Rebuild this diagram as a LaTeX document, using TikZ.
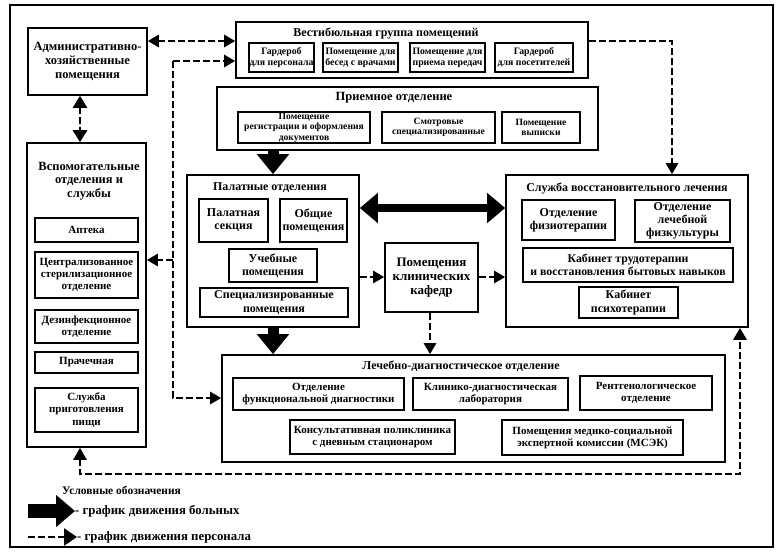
\documentclass[tikz,border=0pt]{standalone}
\usepackage{fontspec}
\setmainfont{Liberation Serif}
\usetikzlibrary{arrows.meta}
\newcommand\fs[1]{\bfseries\fontsize{#1pt}{\dimexpr #1pt*11/10\relax}\selectfont}
\newcommand\bx[7]{\node[#6, minimum width={(#4-#2)*1pt}, minimum height={(#5-#3)*1pt}] (#1) at ({(#2+#4)/2},{(#3+#5)/2}) {#7};}
\begin{document}
\begin{tikzpicture}[x=1pt,y=-1pt,
  sub/.style={draw, line width=1.3pt, inner sep=0.5pt, align=center, font=\fs{9.8}},
  cont/.style={draw, line width=1.6pt},
  ttl/.style={inner sep=0pt, align=center, font=\fs{12}},
  pers/.style={line width=2.6pt, dash pattern=on 7pt off 3pt, -{Triangle[length=11pt,width=12pt]}},
  pat/.style={line width=11pt, -{Triangle[length=20pt,width=31pt]}},
]
\useasboundingbox (0,0) rectangle (784,558);
\fill[white] (0,0) rectangle (784,558);
\draw[line width=1.8pt] (10,5) rectangle (773,547);

% administrative
\bx{admin}{28}{28}{147}{95}{sub,line width=1.6pt,font=\fs{12.5}}{Административно-\\хозяйственные\\помещения}

% vestibule
\bx{vest}{236}{22}{588}{78}{cont}{}
\node[ttl] (vestT) at (386,33) {Вестибюльная группа помещений};
\bx{v1}{250}{43}{313}{72}{sub}{Гардероб\\для персонала}
\bx{v2}{323}{43}{398}{72}{sub}{Помещение для\\бесед с врачами}
\bx{v3}{410}{43}{485}{72}{sub}{Помещение для\\приема передач}
\bx{v4}{495}{43}{573}{72}{sub}{Гардероб\\для посетителей}

% reception
\bx{recep}{217}{87}{598}{150}{cont}{}
\node[ttl,font=\fs{12.5}] (recepT) at (394,98) {Приемное отделение};
\bx{r1}{238}{112}{370}{143}{sub,font=\fs{9.6}}{Помещение\\регистрации и оформления\\документов}
\bx{r2}{382}{112}{495}{143}{sub,font=\fs{9.6}}{Смотровые\\специализированные}
\bx{r3}{502}{112}{580}{143}{sub,font=\fs{9.6}}{Помещение\\выписки}

% auxiliary
\bx{aux}{27}{143}{146}{447}{cont}{}
\node[ttl,font=\fs{12.5}] (auxT) at (89,181) {Вспомогательные\\отделения и\\службы};
\bx{a1}{35}{218}{138}{242}{sub,font=\fs{11}}{Аптека}
\bx{a2}{35}{252}{138}{298}{sub,font=\fs{11}}{Централизованное\\стерилизационное\\отделение}
\bx{a3}{35}{310}{138}{343}{sub,font=\fs{11}}{Дезинфекционное\\отделение}
\bx{a4}{35}{352}{138}{373}{sub,font=\fs{11}}{Прачечная}
\bx{a5}{35}{388}{138}{432}{sub,font=\fs{11}}{Служба\\приготовления\\пищи}

% wards
\bx{palat}{187}{175}{359}{327}{cont}{}
\node[ttl] (palatT) at (270,188) {Палатные отделения};
\bx{p1}{199}{199}{268}{242}{sub,font=\fs{12}}{Палатная\\секция}
\bx{p2}{280}{199}{347}{242}{sub,font=\fs{12}}{Общие\\помещения}
\bx{p3}{229}{249}{317}{282}{sub,font=\fs{12}}{Учебные\\помещения}
\bx{p4}{200}{288}{348}{317}{sub,font=\fs{12}}{Специализированные\\помещения}

% clinical departments
\bx{kaf}{385}{243}{478}{312}{sub,line width=1.6pt,font=\fs{13}}{Помещения\\клинических\\кафедр}

% rehabilitation
\bx{vosst}{506}{175}{748}{327}{cont}{}
\node[ttl] (vosstT) at (627,188) {Служба восстановительного лечения};
\bx{s1}{522}{200}{615}{240}{sub,font=\fs{12}}{Отделение\\физиотерапии}
\bx{s2}{635}{200}{730}{242}{sub,font=\fs{12}}{Отделение\\лечебной\\физкультуры}
\bx{s3}{523}{248}{733}{282}{sub,font=\fs{11.8}}{Кабинет трудотерапии\\и восстановления бытовых навыков}
\bx{s4}{579}{287}{678}{318}{sub,font=\fs{12}}{Кабинет\\психотерапии}

% diagnostics
\bx{lech}{222}{355}{725}{462}{cont}{}
\node[ttl] (lechT) at (461,366) {Лечебно-диагностическое отделение};
\bx{d1}{233}{378}{404}{410}{sub,font=\fs{11}}{Отделение\\функциональной диагностики}
\bx{d2}{413}{378}{568}{410}{sub,font=\fs{11}}{Клинико-диагностическая\\лаборатория}
\bx{d3}{580}{376}{712}{410}{sub,font=\fs{11}}{Рентгенологическое\\отделение}
\bx{d4}{290}{420}{455}{454}{sub,font=\fs{11}}{Консультативная поликлиника\\с дневным стационаром}
\bx{d5}{502}{420}{683}{455}{sub,font=\fs{11}}{Помещения медико-социальной\\экспертной комиссии (МСЭК)}

% helper coordinates
\coordinate (yA) at (0,41);
\coordinate (yB) at (0,61);
\coordinate (xL) at (173,0);
\coordinate (yC) at (0,260);
\coordinate (yD) at (0,398);
\coordinate (xR) at (672,0);
\coordinate (yK) at (0,277);
\coordinate (yE) at (0,474);
\coordinate (xV) at (740,0);
\coordinate (xP) at (273,0);
\coordinate (yP) at (0,208);
\coordinate (xA) at (80,0);
\coordinate (xK) at (430,0);

% personnel
\draw[pers,{Triangle[length=11pt,width=12pt]}-{Triangle[length=11pt,width=12pt]}] (admin.east |- yA) -- (vest.west |- yA);
\draw[pers,{Triangle[length=12pt,width=14pt]}-{Triangle[length=12pt,width=14pt]}] (admin.south -| xA) -- (aux.north -| xA);
\draw[pers] (xL |- yB) -- (vest.west |- yB);
\draw[pers] (xL |- yB) -- (xL |- yD) -- (lech.west |- yD);
\draw[pers] (xL |- yC) -- (aux.east |- yC);
\draw[pers] (vest.east |- yA) -| (vosst.north -| xR);
\draw[pers] (palat.east |- yK) -- (kaf.west |- yK);
\draw[pers] (kaf.east |- yK) -- (vosst.west |- yK);
\draw[pers] (kaf.south -| xK) -- (lech.north -| xK);
\draw[pers,{Triangle[length=12pt,width=13pt]}-{Triangle[length=12pt,width=13pt]}] (aux.south -| xA) -- (xA |- yE) -- (xV |- yE) -- (vosst.south -| xV);

% patients
\draw[pat] (recep.south -| xP) -- (palat.north -| xP);
\draw[pat] (palat.south -| xP) -- (lech.north -| xP);
\draw[pat,line width=8.5pt,{Triangle[length=18pt,width=29pt]}-{Triangle[length=18pt,width=29pt]}] (palat.east |- yP) -- (vosst.west |- yP);

% legend
\node[ttl, anchor=west, font=\fs{11.5}] (legT) at (62,490) {Условные обозначения};
\node[ttl, anchor=west, font=\fs{12.8}] (leg1) at (75,511) {- график движения больных};
\node[ttl, anchor=west, font=\fs{12.8}] (leg2) at (77,537) {- график движения персонала};
\coordinate (l1) at (28,511);
\coordinate (l2) at (28,537);
\draw[pat,line width=14pt,-{Triangle[length=19pt,width=31pt]}] (l1) -- (leg1.west);
\draw[pers,-{Triangle[length=13pt,width=17pt]}] (l2) -- (leg2.west);
\end{tikzpicture}
\end{document}
